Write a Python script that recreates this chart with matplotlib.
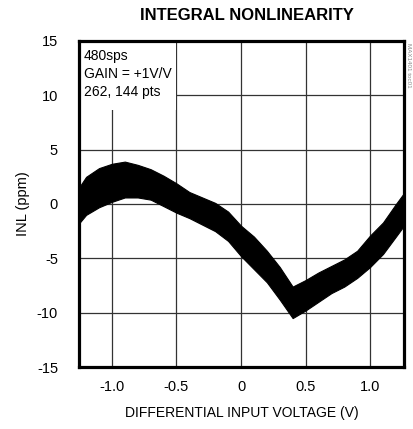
import matplotlib
matplotlib.use('Agg')
import matplotlib.pyplot as plt
from matplotlib.patches import Rectangle

plt.rcParams['font.family'] = ['Liberation Sans', 'DejaVu Sans']
plt.rcParams['axes.unicode_minus'] = False

# upper and lower edges of the noisy INL band
volts = [-1.256, -1.2, -1.1, -1.0, -0.9, -0.8, -0.7, -0.6, -0.5, -0.4, -0.3, -0.2, -0.1,
         0.0, 0.1, 0.2, 0.3, 0.4, 0.5, 0.6, 0.7, 0.8, 0.9, 1.0, 1.1, 1.2, 1.262]
inl_upper = [1.5, 2.5, 3.3, 3.7, 3.9, 3.6, 3.2, 2.6, 1.9, 1.1, 0.6, 0.1, -0.7,
             -2.0, -3.0, -4.3, -5.8, -7.6, -7.0, -6.3, -5.7, -5.1, -4.3, -2.9, -1.7, 0.0, 1.0]
inl_lower = [-1.8, -1.0, -0.3, 0.2, 0.6, 0.6, 0.4, -0.2, -0.8, -1.3, -1.9, -2.5, -3.4,
             -4.8, -6.0, -7.2, -8.8, -10.5, -9.8, -9.0, -8.2, -7.6, -6.8, -5.8, -4.6, -3.0, -2.0]

x_ticks = [-1.0, -0.5, 0.0, 0.5, 1.0]
x_labels = ['-1.0', '-0.5', '0', '0.5', '1.0']
y_ticks = [-15, -10, -5, 0, 5, 10, 15]

fig = plt.figure(figsize=(4.13, 4.29), dpi=100)
ax = fig.add_axes([0.191, 0.1445, 0.787, 0.76])

ax.fill_between(volts, inl_lower, inl_upper, color='black', lw=0.8, zorder=2)

ax.set_xlim(-1.256, 1.262)
ax.set_ylim(-15, 15)
ax.set_xticks(x_ticks)
ax.set_xticklabels(x_labels)
ax.set_yticks(y_ticks)
ax.tick_params(length=0, labelsize=10.5)
ax.tick_params(axis='x', pad=9)
ax.tick_params(axis='y', pad=15)
ax.set_axisbelow(True)
ax.grid(True, color='#333333', lw=0.9)
for s in ax.spines.values():
    s.set_linewidth(2.3)

# white box behind the annotation hides the grid
ax.add_patch(Rectangle((0, 0.788), 0.298, 0.212, transform=ax.transAxes,
                       facecolor='white', edgecolor='none', zorder=1))
ax.text(0.016, 0.975, '480sps\nGAIN = +1V/V\n262, 144 pts', transform=ax.transAxes,
        ha='left', va='top', fontsize=10, linespacing=1.35, zorder=3)

ax.set_xlabel('DIFFERENTIAL INPUT VOLTAGE (V)', fontsize=10, labelpad=9)
ax.set_ylabel('INL (ppm)', fontsize=10.5, labelpad=5)
fig.text(0.598, 0.965, 'INTEGRAL NONLINEARITY', ha='center', va='center',
         fontsize=12, fontweight='bold')
fig.text(0.99, 0.9, 'MAX1401 toc01', rotation=270, ha='center', va='top',
         fontsize=4.5, color='#888888')

fig.savefig('out.png', dpi=100)
